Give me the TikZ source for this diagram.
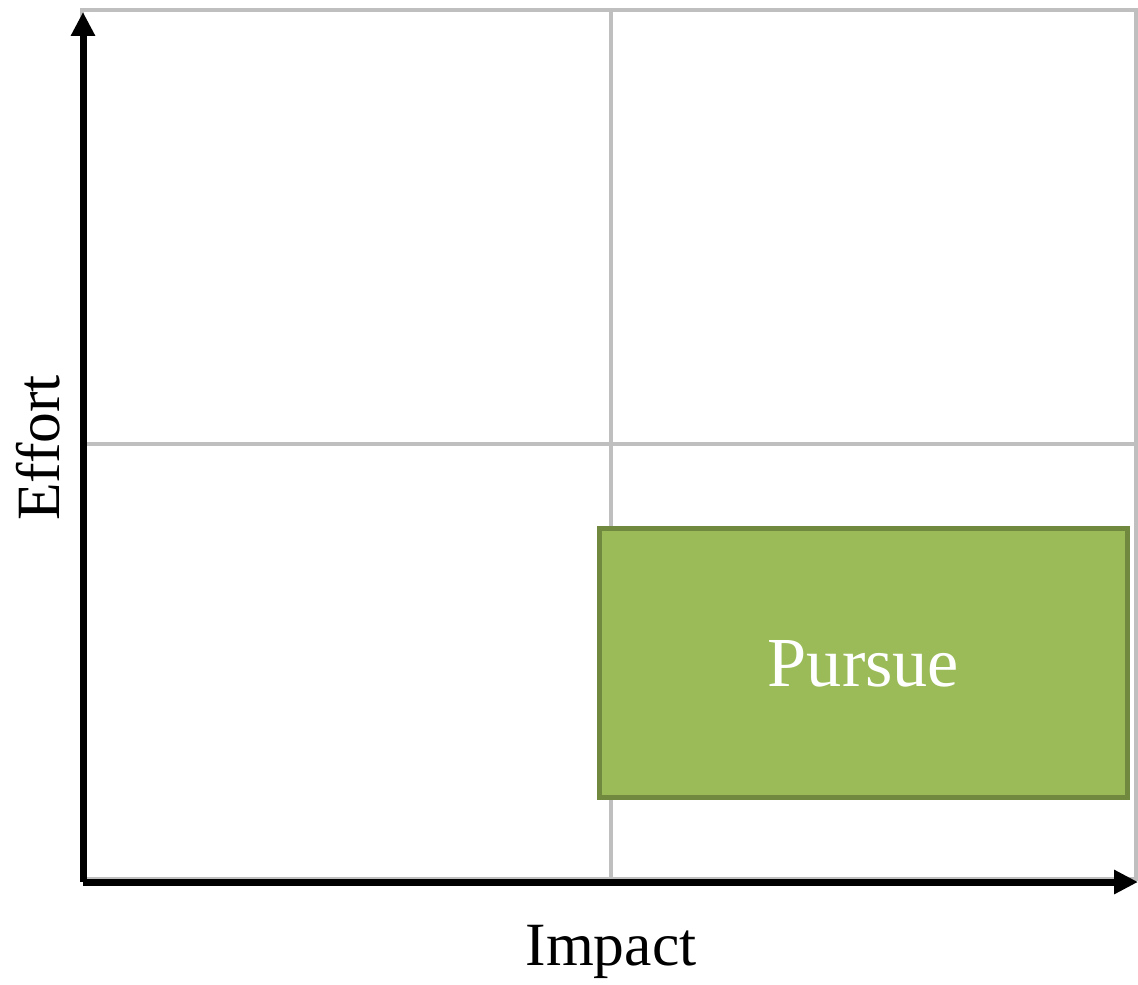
\documentclass[tikz,border=0pt]{standalone}
\usepackage{fontspec}
\setmainfont{Liberation Serif}
\usetikzlibrary{arrows.meta}

\definecolor{pursuefill}{HTML}{9BBB59}
\definecolor{pursueline}{HTML}{71893F}

\begin{document}
\begin{tikzpicture}[x=0.02cm, y=-0.02cm, >={Triangle[length=0.48cm, width=0.46cm]},
    gridline/.style={gray!50, line width=0.08cm},
    axis/.style={->, line width=0.14cm},
    axislabel/.style={anchor=base, font=\fontsize{35}{35}\selectfont}]
    \useasboundingbox (0,0) rectangle (1138,984);

    % quadrant grid
    \draw[gridline] (82,9.5) rectangle (1136,879);
    \draw[gridline] (610.5,9.5) -- (610.5,879);
    \draw[gridline] (82,444) -- (1136,444);

    % pursue quadrant
    \node[draw=pursueline, fill=pursuefill, line width=0.1cm, minimum width=10.58cm, minimum height=5.39cm,
          text=white, text depth=0pt, font=\fontsize{40}{40}\selectfont] (pursue) at (863.5,663) {Pursue};

    % axes
    \coordinate (origin) at (83,882);
    \coordinate (xend) at (1138,882);
    \coordinate (yend) at (83,12);
    \draw[axis] (origin) -- (xend);
    \draw[axis] (origin) -- (yend);
    \node[axislabel] (impact) at (611,965) {Impact};
    \node[axislabel, rotate=90] (effort) at (59,448) {Effort};
\end{tikzpicture}
\end{document}
